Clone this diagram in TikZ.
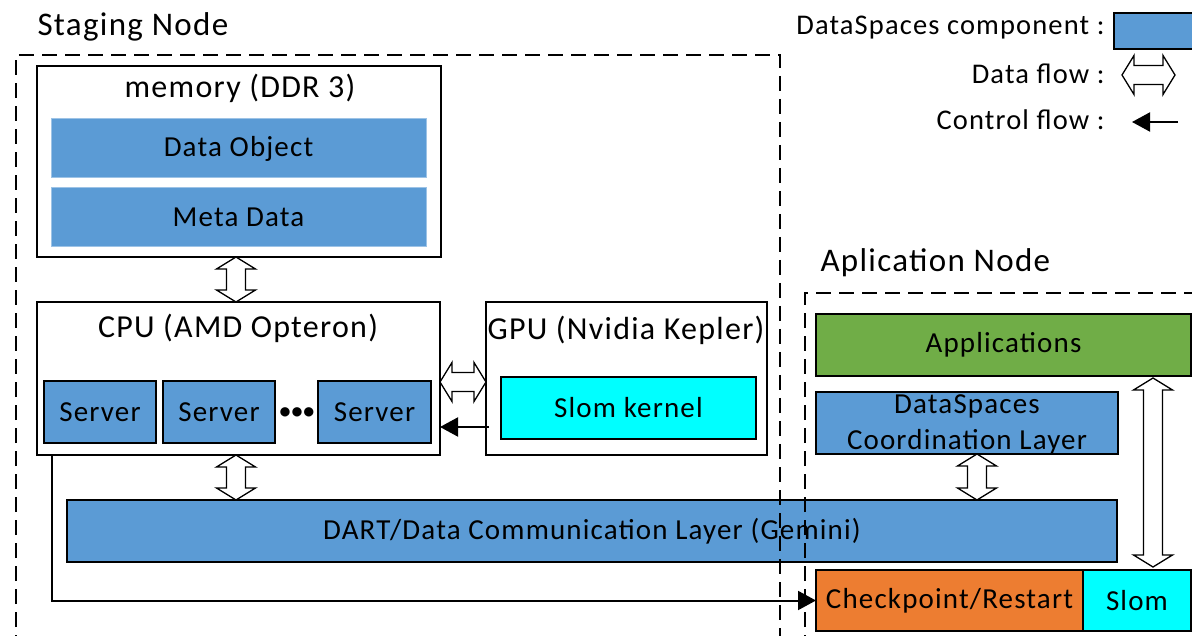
\documentclass[tikz,border=0pt]{standalone}
\usepackage{fontspec}
\setmainfont[LetterSpace=4]{Carlito}
\usetikzlibrary{arrows.meta,calc}
\definecolor{dsblue}{HTML}{5B9BD5}
\definecolor{dsblueline}{HTML}{9DC3E6}
\definecolor{appgreen}{HTML}{70AD47}
\definecolor{ckorange}{HTML}{ED7D31}
\definecolor{slomcyan}{HTML}{00FFFF}
\tikzset{
  bx/.style 2 args={draw=black, line width=1.6pt, minimum width=#1pt, minimum height=#2pt, inner sep=0pt, outer sep=0pt},
  lbl/.style={font=\fontsize{29}{36}\selectfont},
  btl/.style={font=\fontsize{32}{38}\selectfont},
  ttl/.style={font=\fontsize{33}{40}\selectfont},
  lgd/.style={font=\fontsize{28.5}{34}\selectfont},
  grp/.style={draw=black, line width=1.8pt, dash pattern=on 15pt off 8pt},
  ctrl/.style={draw=black, line width=2pt, -{Triangle[length=18pt,width=19pt]}},
  vdbl/.style={draw=black, fill=white, line width=1.3pt,
    to path={let \p1=(\tikztostart), \p2=(\tikztotarget) in
      (\x1,\y1) -- (\x1+19.5pt,\y1-12pt) -- (\x1+9.5pt,\y1-12pt) -- (\x1+9.5pt,\y2+12pt)
      -- (\x1+19.5pt,\y2+12pt) -- (\x1,\y2) -- (\x1-19.5pt,\y2+12pt) -- (\x1-9.5pt,\y2+12pt)
      -- (\x1-9.5pt,\y1-12pt) -- (\x1-19.5pt,\y1-12pt) -- cycle}},
  hdbl/.style={draw=black, fill=white, line width=1.3pt,
    to path={let \p1=(\tikztostart), \p2=(\tikztotarget) in
      (\x1,\y1) -- (\x1+12pt,\y1+19.5pt) -- (\x1+12pt,\y1+9.5pt) -- (\x2-12pt,\y1+9.5pt)
      -- (\x2-12pt,\y1+19.5pt) -- (\x2,\y1) -- (\x2-12pt,\y1-19.5pt) -- (\x2-12pt,\y1-9.5pt)
      -- (\x1+12pt,\y1-9.5pt) -- (\x1+12pt,\y1-19.5pt) -- cycle}},
}
\begin{document}
\begin{tikzpicture}[x=1pt,y=-1pt]
\clip (0,0) rectangle (1192,636);
\fill[white] (0,0) rectangle (1192,636);

% titles
\node[ttl, anchor=west] (stagingttl) at (34,27) {Staging Node};
\node[ttl, anchor=west] (appttl) at (817,263) {Aplication Node};

% memory
\node[bx={404}{191}, fill=white] (mem) at (239,161.5) {};
\node[btl] (memttl) at (240,88) {memory (DDR 3)};
\node[bx={375}{59}, draw=dsblueline, line width=1pt, fill=dsblue, lbl] (dobj) at (238.5,148.5) {Data Object};
\node[bx={375}{59}, draw=dsblueline, line width=1pt, fill=dsblue, lbl] (meta) at (238.5,217.5) {Meta Data};

% CPU
\node[bx={403}{153}, fill=white] (cpu) at (238.5,378.5) {};
\node[btl] (cputtl) at (238,328) {CPU (AMD Opteron)};
\node[bx={112}{62}, fill=dsblue, lbl] (s1) at (100,412) {Server};
\node[bx={112}{62}, fill=dsblue, lbl] (s2) at (219,412) {Server};
\node[bx={113}{62}, fill=dsblue, lbl] (s3) at (374.5,412) {Server};
\node[font=\fontsize{22}{22}\selectfont\bfseries, inner sep=0pt] (dots) at (297,413) {•••};

% GPU
\node[bx={281}{153}, fill=white] (gpu) at (626.5,378.5) {};
\node[btl] (gputtl) at (626,330) {GPU (Nvidia Kepler)};
\node[bx={255}{62}, fill=slomcyan, lbl] (slomk) at (628.5,408) {Slom kernel};

% DART
\node[bx={1050}{62}, fill=dsblue, lbl] (dart) at (592,531) {DART/Data Communication Layer (Gemini)};

% Application node
\node[bx={375}{62}, fill=appgreen, lbl] (apps) at (1003.5,345) {Applications};
\node[bx={302}{62}, fill=dsblue] (coord) at (967,423) {};
\node[lbl, align=center, inner sep=0pt] (coordtxt) at (967,424) {DataSpaces\\Coordination Layer};
\node[bx={267}{61}, fill=ckorange, lbl] (ckpt) at (949.5,600.5) {Checkpoint/Restart};
\node[bx={108}{61}, fill=slomcyan, lbl] (slom) at (1137,600.5) {Slom};

% data flows
\draw[vdbl] ([xshift=-3pt]mem.south) to ([xshift=-3pt]mem.south |- cpu.north);
\draw[vdbl] ([xshift=-2.5pt]cpu.south) to ([xshift=-2.5pt]cpu.south |- dart.north);
\draw[hdbl] ([yshift=-3.5pt]cpu.east) to ([yshift=-3.5pt]gpu.west);
\draw[vdbl] ([xshift=10pt]coord.south) to ([xshift=10pt]coord.south |- dart.north);
\coordinate (la) at ([xshift=16pt]slom.north |- apps.south);
\draw[vdbl] ([yshift=-2pt]la) to ([xshift=16pt,yshift=3pt]slom.north);

% control flows
\coordinate (g1) at ([xshift=3pt,yshift=-48.5pt]gpu.west);
\draw[ctrl] (g1) -- (g1 -| cpu.east);
\coordinate (c1) at ([xshift=15pt]cpu.south west);
\draw[ctrl] (c1) |- (ckpt.west);

% dashed groups
\draw[grp] (16,650) -- (16,55) -- (780,55) -- (780,650);
\draw[grp] (805,650) -- (805,293) -- (1210,293);

% legend
\node[lgd, anchor=east] (lg1) at (1108,28) {DataSpaces component :};
\node[draw=black, line width=1.6pt, fill=dsblue, minimum width=100pt, minimum height=36pt, anchor=west] (lgbox) at (1113,31) {};
\node[lgd, anchor=east] (lg2) at (1108,74) {Data flow :};
\coordinate (ld1) at (1122,75);
\coordinate (ld2) at (1175,75);
\draw[hdbl] (ld1) to (ld2);
\node[lgd, anchor=east] (lg3) at (1108,120) {Control flow :};
\coordinate (lc1) at (1178,122);
\coordinate (lc2) at (1132,122);
\draw[ctrl] (lc1) -- (lc2);
\end{tikzpicture}
\end{document}
